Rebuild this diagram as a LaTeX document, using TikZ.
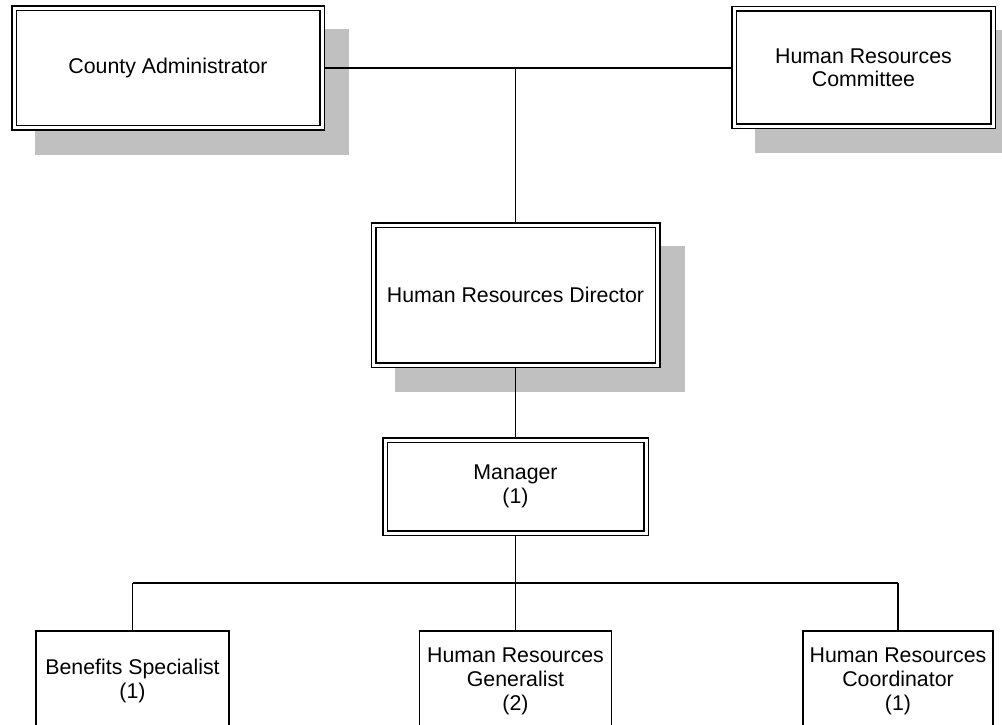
\documentclass[tikz,border=0pt]{standalone}
\usepackage{fontspec}
\setmainfont{Liberation Sans}
\usetikzlibrary{calc,backgrounds}
\definecolor{shadowc}{RGB}{192,192,192}
\begin{document}
\begin{tikzpicture}[x=0.75pt,y=-0.75pt,
  dbox/.style={draw=black,line width=1.125pt,double=white,double distance=2.25pt,
    fill=white,inner sep=0pt,outer sep=2.25pt,align=center,
    font=\fontsize{16pt}{17.5pt}\selectfont},
  sbox/.style={draw=black,line width=1.2pt,fill=white,inner sep=0pt,align=center,
    font=\fontsize{16pt}{18pt}\selectfont},
  link/.style={draw=black,line width=1.2pt},
  shade/.style={fill=shadowc}]
\useasboundingbox (0,0) rectangle (1002,724);
\clip (0,0) rectangle (1002,724);
\node[dbox,minimum width=231pt,minimum height=89.25pt] (cnty) at (168,68) {County Administrator};
\node[dbox,minimum width=194.25pt,minimum height=87.75pt] (cmte) at (863.5,67.5) {Human Resources\\Committee};
\node[dbox,minimum width=213pt,minimum height=105pt] (dir) at (515.5,295) {Human Resources Director};
\node[dbox,minimum width=195.75pt,minimum height=69.75pt] (mgr) at (515.5,486.5) {Manager\\(1)};
\node[sbox,minimum width=144.75pt,minimum height=75pt] (ben) at (132.5,681) {Benefits Specialist\\(1)};
\node[sbox,minimum width=144pt,minimum height=75pt] (gen) at (515.5,681) {Human Resources\\Generalist\\(2)};
\node[sbox,minimum width=142.5pt,minimum height=75pt] (crd) at (898,681) {Human Resources\\Coordinator\\(1)};
\begin{pgfonlayer}{background}
  \foreach \n in {cnty,cmte,dir}{
    \fill[shade] ($(\n.north west)+(24,24)$) rectangle ($(\n.south east)+(24,24)$);
  }
\end{pgfonlayer}
\coordinate (j) at (515.5,68);
\coordinate (bus) at (515.5,583);
\draw[link] (cnty.east) -- (cnty.east -| cmte.west);
\draw[link] (j) -- (dir.north);
\draw[link] (dir.south) -- (mgr.north);
\draw[link] (mgr.south) -- (bus);
\draw[link] (ben.north |- bus) -- (crd.north |- bus);
\draw[link] (ben.north |- bus) -- (ben.north);
\draw[link] (bus) -- (gen.north);
\draw[link] (crd.north |- bus) -- (crd.north);
\end{tikzpicture}
\end{document}
